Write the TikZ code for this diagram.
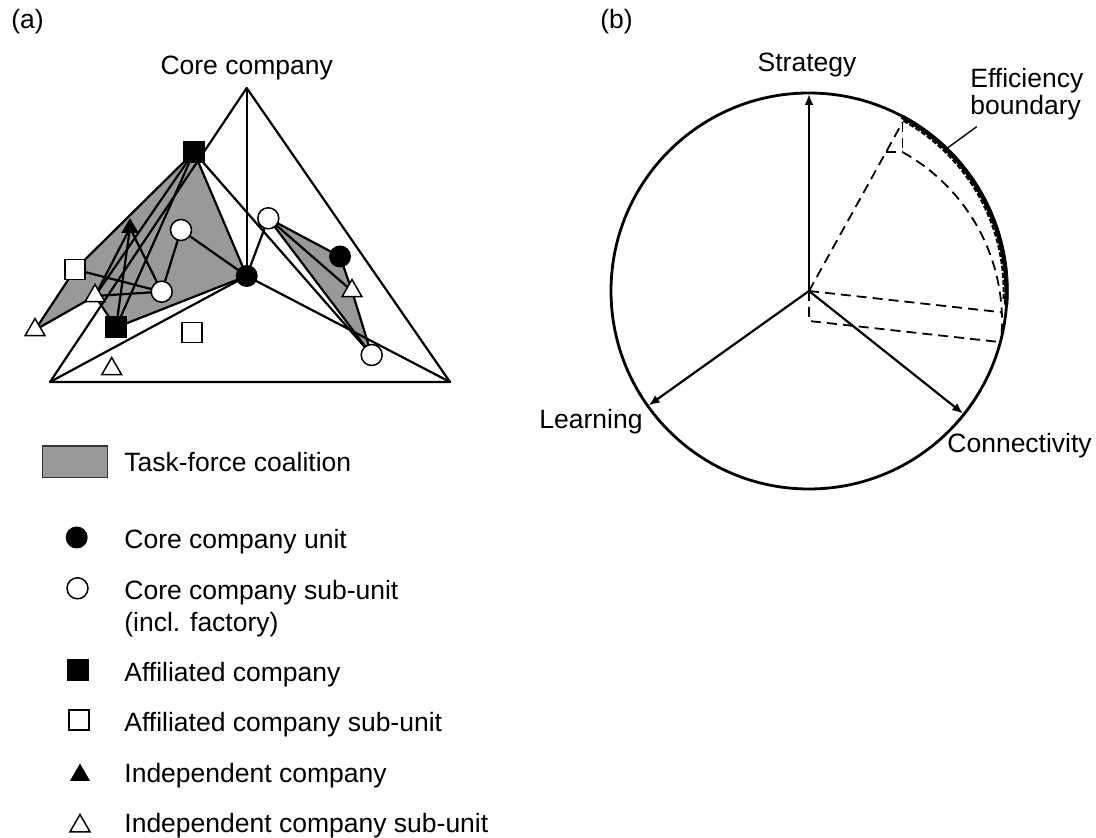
\documentclass[tikz,border=0pt]{standalone}
\usepackage{fontspec}
\setmainfont{Liberation Sans}
\usetikzlibrary{shapes.geometric,arrows.meta,backgrounds}
\begin{document}
\begin{tikzpicture}[x=0.5pt,y=-0.5pt,
  font=\fontsize{13.25}{16}\selectfont,
  edge/.style={line width=1.1pt, line join=round},
  coalition/.style={fill=black!40, draw=black, line width=1.1pt, line join=round},
  unitdot/.style={circle, fill=black, inner sep=0pt, minimum size=11pt},
  subdot/.style={circle, draw=black, fill=white, line width=0.75pt, inner sep=0pt, minimum size=10.5pt},
  affsq/.style={rectangle, fill=black, inner sep=0pt, minimum size=11pt},
  subsq/.style={rectangle, draw=black, fill=white, line width=0.75pt, inner sep=0pt, minimum size=10pt},
  indtri/.style={regular polygon, regular polygon sides=3, fill=black, inner sep=0pt, minimum size=11.5pt},
  subtri/.style={regular polygon, regular polygon sides=3, draw=black, fill=white, line width=0.75pt, inner sep=0pt, minimum size=11.5pt},
  txt/.style={inner sep=0pt},
  axis/.style={line width=1.1pt, -{Latex[length=5.5pt,width=4.5pt]}},
  dashline/.style={line width=0.9pt, dash pattern=on 5pt off 3pt},
]
\useasboundingbox (0,0) rectangle (1096,838);

% ---------- panel (a): network triangle ----------
\node[txt, anchor=west] (la) at (11,22) {(a)};
\node[txt, anchor=base] (core) at (246.7,75) {Core company};

\coordinate (A)  at (246.7,88);
\coordinate (BL) at (50,382);
\coordinate (BR) at (450,382);

\node[affsq]  (S1) at (194,152) {};
\node[unitdot] (C) at (246.7,276) {};
\node[subdot] (W1) at (268.3,218.3) {};
\node[subdot] (W2) at (181,230) {};
\node[subdot] (W4) at (161.7,291.7) {};
\node[indtri, minimum size=10pt] (B1) at (130,228) {};
\node[subsq]  (Q1) at (75,269.5) {};
\node[subtri] (T1) at (35,330) {};
\node[subtri] (T2) at (95,296) {};
\node[affsq]  (S2) at (116,327.5) {};
\node[subsq]  (Q2) at (192,332.5) {};
\node[subtri] (T4) at (111.7,369) {};
\node[unitdot] (C2) at (340,256.5) {};
\node[subtri] (T3) at (352,291) {};
\node[subdot] (W3) at (371.7,355) {};

\begin{pgfonlayer}{background}
  % task-force coalitions
  \path[coalition] (S1.center) -- (C.center) -- (S2.center) -- (T2.center)
        -- (T1.center) -- (Q1.center) -- cycle;
  \path[coalition] (W1.center) -- (C2.center) -- (T3.center) -- (W3.center) -- cycle;
  % outer triangle
  \draw[edge] (A) -- (BL) -- (BR) -- cycle;
  % links of the core unit
  \draw[edge] (A) -- (C.center);
  \draw[edge] (BL) -- (C.center);
  \draw[edge] (C.center) -- (BR);
  \draw[edge] (C.center) -- (W1.center);
  \draw[edge] (C.center) -- (W2.center);
  \draw[edge] (S1.center) -- (W3.center);
  % links inside the left coalition
  \draw[edge] (S1.center) -- (S2.center);
  \draw[edge] (S1.center) -- (T2.center);
  \draw[edge] (B1.center) -- (S2.center);
  \draw[edge] (B1.center) -- (T2.center);
  \draw[edge] (B1.center) -- (W4.center);
  \draw[edge] (Q1.center) -- (W4.center);
  \draw[edge] (T2.center) -- (W4.center);
  \draw[edge] (W2.center) -- (W4.center);
  % links inside the right coalition
  \draw[edge] (W1.center) -- (T3.center);
\end{pgfonlayer}

% ---------- legend ----------
\node[draw=black!80, fill=black!40, line width=0.7pt, minimum width=32.3pt,
      minimum height=15.6pt, inner sep=0pt] (k0) at (75,461.7) {};
\node[txt, anchor=base west] (t0) at (124,472) {Task-force coalition};
\node[unitdot] (k1) at (76.7,537.5) {};
\node[txt, anchor=base west] (t1) at (124,548) {Core company unit};
\node[subdot] (k2) at (77.5,588.3) {};
\node[txt, anchor=base west] (t2) at (124,599) {Core company sub-unit};
\node[txt, anchor=base west] (t2b) at (124,631.5) {(incl. factory)};
\node[affsq] (k3) at (78,670) {};
\node[txt, anchor=base west] (t3) at (124,681) {Affiliated company};
\node[subsq] (k4) at (79,720) {};
\node[txt, anchor=base west] (t4) at (124,731) {Affiliated company sub-unit};
\node[indtri] (k5) at (80,775) {};
\node[txt, anchor=base west] (t5) at (124,782) {Independent company};
\node[subtri] (k6) at (80,826) {};
\node[txt, anchor=base west] (t6) at (124,832.5) {Independent company sub-unit};

% ---------- panel (b): strategy circle ----------
\node[txt, anchor=west] (lb) at (600,22) {(b)};
\begin{scope}[shift={(809,291)}, yscale=-1]
  \coordinate (O) at (0,0);
  \draw[line width=1.4pt] (O) circle[radius=198];
  % efficiency boundary band
  \draw[line width=2.2pt] (62:197.5) arc[start angle=62, end angle=-4, radius=197.5];
  \draw[line width=0.9pt, dash pattern=on 2.5pt off 1pt] (61:194.5) arc[start angle=61, end angle=-3, radius=194.5];
  % axes
  \coordinate (S) at (90:197);
  \coordinate (L) at (215.5:197);
  \coordinate (K) at (-38.5:197);
  \draw[axis] (O) -- (S);
  \draw[axis] (O) -- (L);
  \draw[axis] (O) -- (K);
  % dashed wedge
  \coordinate (P1)  at (93.57,168.80);
  \coordinate (P2)  at (191.83,-21.18);
  \coordinate (O2)  at (0,-30);
  \coordinate (P1b) at (93.57,138.80);
  \coordinate (P2b) at (191.83,-51.18);
  \coordinate (Tk)  at (76.9,138.8);
  \draw[dashline] (O) -- (P1);
  \draw[dashline] (O) -- (P2);
  \draw[dashline] (O) -- (O2) -- (P2b);
  \draw[dashline] (P1) -- (P1b);
  \draw[dashline] (Tk) -- (P1b);
  \draw[dashline] (P1b) arc[start angle=61, end angle=-6.3, radius=193];
  % labels
  \node[txt, anchor=base] (ls) at (-2,219) {Strategy};
  \node[txt, anchor=base east] (ll) at (-166,-137.3) {Learning};
  \node[txt, anchor=base west] (lc) at (138,-162) {Connectivity};
  \node[txt, anchor=base west] (e1) at (161,203) {Efficiency};
  \node[txt, anchor=base west] (e2) at (161,176) {boundary};
  \coordinate (lead) at (167.7,164.3);
  \coordinate (bnd) at (45.9:199.5);
  \draw[line width=0.7pt] (lead) -- (bnd);
\end{scope}
\end{tikzpicture}
\end{document}
